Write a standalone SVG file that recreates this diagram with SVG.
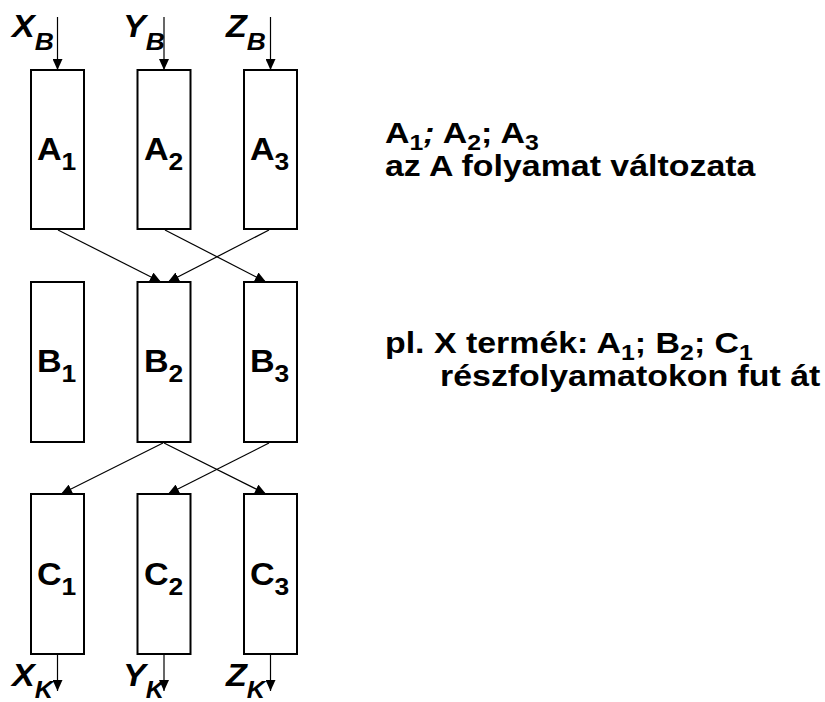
<svg xmlns="http://www.w3.org/2000/svg" width="825" height="702" viewBox="0 0 825 702">
<style>
.box{fill:#fff;stroke:#000;stroke-width:2}
.conn{stroke:#000;stroke-width:1.2;fill:none;marker-end:url(#arr)}
.lbl{font-family:"Liberation Sans",Arial,sans-serif;font-weight:bold;fill:#000}
.io{font-family:"Liberation Sans",Arial,sans-serif;font-weight:bold;font-style:italic;fill:#000}
</style>
<defs>
<marker id="arr" markerUnits="userSpaceOnUse" markerWidth="12" markerHeight="10" refX="11" refY="5" orient="auto">
<path d="M0,0 L11,5 L0,10 z" fill="#000"/>
</marker>
</defs>
<rect width="825" height="702" fill="#fff"/>
<g id="connectors">
<line class="conn" x1="57.5" y1="17" x2="57.5" y2="70"/>
<line class="conn" x1="164" y1="17" x2="164" y2="70"/>
<line class="conn" x1="270.5" y1="17" x2="270.5" y2="70"/>
<line class="conn" x1="58" y1="230" x2="161" y2="282"/>
<line class="conn" x1="165" y1="230" x2="266" y2="282"/>
<line class="conn" x1="269" y1="230" x2="168" y2="282"/>
<line class="conn" x1="163" y1="443" x2="61" y2="494"/>
<line class="conn" x1="164" y1="443" x2="266" y2="494"/>
<line class="conn" x1="269" y1="443" x2="168" y2="494"/>
<line class="conn" x1="57.5" y1="654" x2="57.5" y2="691"/>
<line class="conn" x1="164" y1="654" x2="164" y2="691"/>
<line class="conn" x1="270.5" y1="654" x2="270.5" y2="691"/>
</g>
<g id="XB"><text class="io" transform="translate(12,37) scale(1.1,1)" font-size="31">X<tspan font-size="24" dy="13">B</tspan></text></g>
<g id="YB"><text class="io" transform="translate(123,37) scale(1.1,1)" font-size="31">Y<tspan font-size="24" dy="13">B</tspan></text></g>
<g id="ZB"><text class="io" transform="translate(226,37) scale(1.1,1)" font-size="31">Z<tspan font-size="24" dy="13">B</tspan></text></g>
<g id="A1"><rect class="box" x="31" y="70" width="53" height="159"/><text class="lbl" transform="translate(37,160) scale(1.1,1)" font-size="31">A<tspan font-size="24" dy="10">1</tspan></text></g>
<g id="A2"><rect class="box" x="137.5" y="70" width="53" height="159"/><text class="lbl" transform="translate(144,160) scale(1.1,1)" font-size="31">A<tspan font-size="24" dy="10">2</tspan></text></g>
<g id="A3"><rect class="box" x="244" y="70" width="53" height="159"/><text class="lbl" transform="translate(250,160) scale(1.1,1)" font-size="31">A<tspan font-size="24" dy="10">3</tspan></text></g>
<g id="B1"><rect class="box" x="31" y="282" width="53" height="160"/><text class="lbl" transform="translate(37,372) scale(1.1,1)" font-size="31">B<tspan font-size="24" dy="10">1</tspan></text></g>
<g id="B2"><rect class="box" x="137.5" y="282" width="53" height="160"/><text class="lbl" transform="translate(144,372) scale(1.1,1)" font-size="31">B<tspan font-size="24" dy="10">2</tspan></text></g>
<g id="B3"><rect class="box" x="244" y="282" width="53" height="160"/><text class="lbl" transform="translate(250,372) scale(1.1,1)" font-size="31">B<tspan font-size="24" dy="10">3</tspan></text></g>
<g id="C1"><rect class="box" x="31" y="494" width="53" height="160"/><text class="lbl" transform="translate(37,585) scale(1.1,1)" font-size="31">C<tspan font-size="24" dy="10">1</tspan></text></g>
<g id="C2"><rect class="box" x="137.5" y="494" width="53" height="160"/><text class="lbl" transform="translate(144,585) scale(1.1,1)" font-size="31">C<tspan font-size="24" dy="10">2</tspan></text></g>
<g id="C3"><rect class="box" x="244" y="494" width="53" height="160"/><text class="lbl" transform="translate(250,585) scale(1.1,1)" font-size="31">C<tspan font-size="24" dy="10">3</tspan></text></g>
<g id="XK"><text class="io" transform="translate(12,686) scale(1.1,1)" font-size="31">X<tspan font-size="23" dy="12">K</tspan></text></g>
<g id="YK"><text class="io" transform="translate(123,686) scale(1.1,1)" font-size="31">Y<tspan font-size="23" dy="12">K</tspan></text></g>
<g id="ZK"><text class="io" transform="translate(226,686) scale(1.1,1)" font-size="31">Z<tspan font-size="23" dy="12">K</tspan></text></g>
<g id="note1">
<text class="lbl" transform="translate(385,143) scale(1.13,1)" font-size="30">A<tspan font-size="22" dy="7">1</tspan><tspan dy="-7" font-style="italic">;</tspan> A<tspan font-size="22" dy="7">2</tspan><tspan dy="-7">;</tspan> A<tspan font-size="22" dy="7">3</tspan></text>
<text class="lbl" transform="translate(385,176) scale(1.13,1)" font-size="30">az A folyamat változata</text>
</g>
<g id="note2">
<text class="lbl" transform="translate(385,353) scale(1.13,1)" font-size="30">pl. X termék: A<tspan font-size="22" dy="7">1</tspan><tspan dy="-7">;</tspan> B<tspan font-size="22" dy="7">2</tspan><tspan dy="-7">;</tspan> C<tspan font-size="22" dy="7">1</tspan></text>
<text class="lbl" transform="translate(440,386) scale(1.13,1)" font-size="30">részfolyamatokon fut át</text>
</g>
</svg>
